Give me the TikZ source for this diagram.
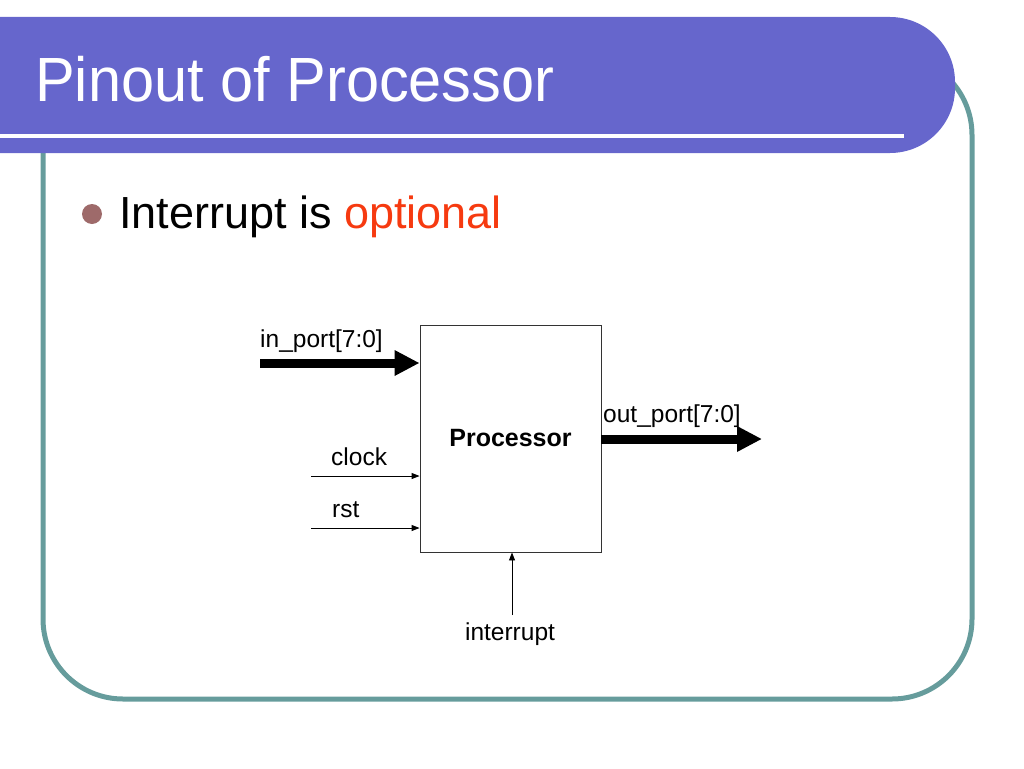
\documentclass[tikz,border=0pt]{standalone}
\usepackage{fontspec}
\setmainfont{Liberation Sans}
\usetikzlibrary{arrows.meta}

\definecolor{headblue}{HTML}{6666CC}
\definecolor{frameteal}{HTML}{669C9C}
\definecolor{bulletbrown}{HTML}{9E6A6A}
\definecolor{optred}{HTML}{F63A10}

\tikzset{
  bus/.style={line width=9pt,-{Triangle[length=25pt,width=24pt]}},
  sig/.style={line width=0.9pt,-{Triangle[length=8pt,width=6pt]}},
  siglabel/.style={font=\fontsize{24.5}{28}\selectfont,inner sep=0pt},
}

\begin{document}
\begin{tikzpicture}[x=1pt,y=-1pt] %[pixel grid, y down]
		\useasboundingbox (0,0) rectangle (1024,768);
		% slide frame and title bar
		\draw[frameteal,line width=5pt,rounded corners=80pt] (43,55) rectangle (972,699);
		\fill[headblue] (-5,17) [rounded corners=65pt] -- (955,17) -- (955,153) [sharp corners] -- (-5,153) -- cycle;
		\draw[white,line width=4pt] (-5,136) -- (904,136);
		\node[anchor=base west,inner sep=0pt,text=white,font=\fontsize{59.5}{72}\selectfont] (title) at (35,101) {\scalebox{1}[1.05]{Pinout of Processor}};
		% bullet
		\fill[bulletbrown] (92,214) circle (10pt);
		\node[anchor=base west,inner sep=0pt,font=\fontsize{45}{52}\selectfont] (item) at (119,228) {Interrupt is \textcolor{optred}{optional}};
		% processor block
		\node[draw=black!80,line width=0.9pt,minimum width=181pt,minimum height=227pt,font=\bfseries\fontsize{25}{30}\selectfont] (proc) at (510.5,438.5) {Processor};
		\coordinate (inA) at (260,363);
		\coordinate (clkA) at (311,476);
		\coordinate (rstA) at (311,528);
		\coordinate (outB) at (762,439);
		\coordinate (intA) at (512,615);
		\draw[bus] (inA) -- (inA -| proc.west);
		\draw[sig] (clkA) -- (clkA -| proc.west);
		\draw[sig] (rstA) -- (rstA -| proc.west);
		\draw[bus] (outB -| proc.east) -- (outB);
		\draw[sig] (intA) -- (intA |- proc.south);
		\node[siglabel,anchor=base west] (inlbl) at (260,347) {in\_port[7:0]};
		\node[siglabel,anchor=base west] (clklbl) at (331,465) {clock};
		\node[siglabel,anchor=base west] (rstlbl) at (332,517) {rst};
		\node[siglabel,anchor=base west] (outlbl) at (603,422) {out\_port[7:0]};
		\node[siglabel,anchor=base] (intlbl) at (510,640) {interrupt};
		%\node at (510,700) {};
\end{tikzpicture}
\end{document}
